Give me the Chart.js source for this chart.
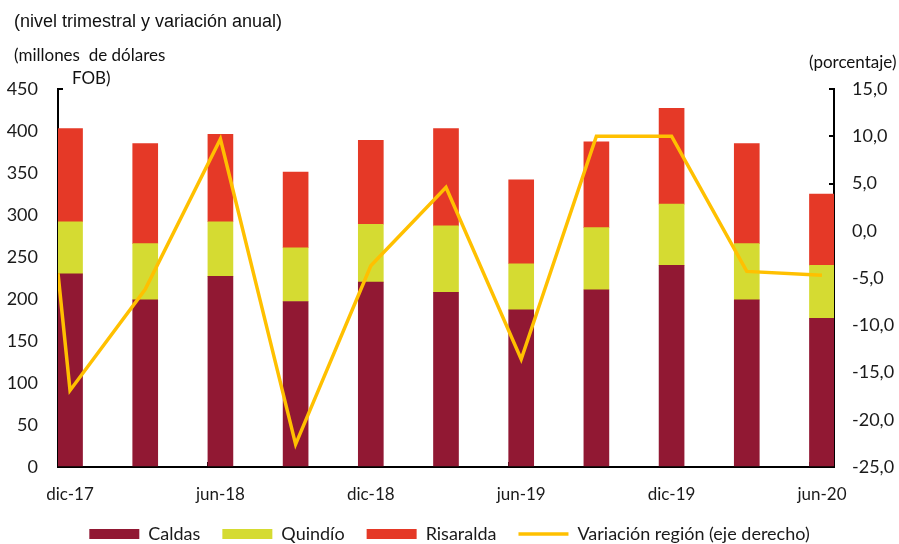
<!DOCTYPE html>
<html>
<head>
<meta charset="utf-8">
<script src="https://cdn.jsdelivr.net/npm/chart.js@4.4.0/dist/chart.umd.min.js"></script>
<style>
  html, body { margin: 0; padding: 0; background: #fff; }
  #wrap { position: relative; width: 899px; height: 544px; }
  #wrap canvas { position: absolute; left: 0; top: 0; }
  .txt { position: absolute; white-space: pre; color: #111; font-family: Lato, sans-serif; font-size: 17px; line-height: 1; }
  #titulo { left: 14px; top: 12px; font-family: "Liberation Sans", Arial, sans-serif; font-size: 18px; }
  #unidadIzq1 { left: 14px; top: 46px; }
  #unidadIzq2 { left: 72px; top: 69px; }
  #unidadDer { left: 809px; top: 53px; }
</style>
</head>
<body>
<div id="wrap">
  <canvas id="myChart" width="899" height="544"></canvas>
  <div class="txt" id="titulo">(nivel trimestral y variación anual)</div>
  <div class="txt" id="unidadIzq1">(millones  de dólares</div>
  <div class="txt" id="unidadIzq2">FOB)</div>
  <div class="txt" id="unidadDer">(porcentaje)</div>
</div>
<script>
// trimestres
const categorias = ['dic-17', 'mar-18', 'jun-18', 'sep-18', 'dic-18', 'mar-19', 'jun-19', 'sep-19', 'dic-19', 'mar-20', 'jun-20'];

// millones de dólares FOB
const caldas    = [230, 199, 227, 197, 220, 208, 187, 211, 240, 199, 177];
const quindio   = [62, 67, 65, 64, 69, 79, 55, 74, 73, 67, 63];
const risaralda = [111, 119, 104, 90, 100, 116, 100, 102, 114, 119, 85];

// variación anual región (%)
const variacion = [-16.9, -6.2, 9.7, -22.6, -3.7, 4.6, -13.6, 10.0, 10.0, -4.3, -4.7];
const variacionInicio = -4.5; // tramo que entra por el borde izquierdo

const xMin = -0.16;
const xMax = categorias.length - 1 + 0.16;

const fuente = 'Lato, sans-serif';
const colorTexto = '#1a1a1a';

function puntos(valores) {
  return valores.map((v, i) => ({ x: i, y: v }));
}

const datosLinea = [{ x: xMin, y: variacionInicio }].concat(puntos(variacion));

const ctx = document.getElementById('myChart').getContext('2d');

const myChart = new Chart(ctx, {
  type: 'bar',
  data: {
    datasets: [
      {
        type: 'line',
        label: 'Variación región (eje derecho)',
        data: datosLinea,
        yAxisID: 'y1',
        xAxisID: 'x',
        borderColor: '#FFC000',
        backgroundColor: '#FFC000',
        borderWidth: 3.5,
        pointRadius: 0,
        tension: 0,
        order: -1
      },
      { label: 'Caldas', data: puntos(caldas), backgroundColor: '#911833', yAxisID: 'y', barThickness: 25 },
      { label: 'Quindío', data: puntos(quindio), backgroundColor: '#D5DB32', yAxisID: 'y', barThickness: 25 },
      { label: 'Risaralda', data: puntos(risaralda), backgroundColor: '#E53927', yAxisID: 'y', barThickness: 25 }
    ]
  },
  options: {
    responsive: false,
    animation: false,
    layout: { padding: { top: 89, left: 0, right: 0, bottom: -9 } },
    plugins: {
      tooltip: { enabled: false },
      legend: {
        position: 'bottom',
        labels: {
          usePointStyle: true,
          pointStyleWidth: 50,
          boxHeight: 10,
          padding: 22,
          color: colorTexto,
          font: { family: fuente, size: 18 },
          sort: (a, b) => {
            const orden = [1, 2, 3, 0];
            return orden.indexOf(a.datasetIndex) - orden.indexOf(b.datasetIndex);
          },
          generateLabels: function(chart) {
            const items = Chart.defaults.plugins.legend.labels.generateLabels(chart);
            items.forEach(it => {
              if (it.datasetIndex === 0) {
                it.pointStyle = 'line';
                it.strokeStyle = '#FFC000';
                it.lineWidth = 3.5;
              } else {
                it.pointStyle = 'rect';
                it.lineWidth = 0;
              }
            });
            return items;
          }
        }
      }
    },
    scales: {
      x: {
        type: 'linear',
        position: 'bottom',
        min: xMin,
        max: xMax,
        offset: false,
        stacked: true,
        weight: 1,
        border: { color: '#000', width: 2 },
        grid: { display: false, drawTicks: false, offset: false },
        afterBuildTicks: s => {
          s.ticks = categorias.map((c, i) => ({ value: i })).filter(t => t.value % 2 === 0);
        },
        afterFit: s => { s.height = 36; },
        ticks: {
          padding: 17,
          autoSkip: false,
          maxRotation: 0,
          color: colorTexto,
          font: { family: fuente, size: 17 },
          callback: v => categorias[Math.round(v)]
        }
      },
      xMarcas: {
        type: 'linear',
        position: 'bottom',
        min: xMin,
        max: xMax,
        offset: false,
        weight: 0,
        border: { display: false },
        grid: { drawOnChartArea: false, drawTicks: true, tickLength: -5, color: '#000', lineWidth: 2, offset: false },
        afterBuildTicks: s => {
          s.ticks = [0, 2, 4, 6, 8, 10].map(k => ({ value: xMin + k }));
        },
        afterFit: s => { s.height = 0; },
        ticks: { display: false }
      },
      y: {
        position: 'left',
        stacked: true,
        min: 0,
        max: 450,
        border: { color: '#000', width: 2 },
        grid: { drawOnChartArea: false, drawTicks: true, tickLength: -5, color: '#000', lineWidth: 2 },
        afterFit: s => { s.width = 58; },
        ticks: {
          stepSize: 50,
          padding: 25,
          color: colorTexto,
          font: { family: fuente, size: 18 }
        }
      },
      y1: {
        position: 'right',
        min: -25,
        max: 15,
        border: { color: '#000', width: 2 },
        grid: { drawOnChartArea: false, drawTicks: true, tickLength: -5, color: '#000', lineWidth: 2 },
        afterFit: s => { s.width = 65; },
        ticks: {
          stepSize: 5,
          padding: 23,
          color: colorTexto,
          font: { family: fuente, size: 18 },
          callback: v => v.toFixed(1).replace('.', ',')
        }
      }
    }
  }
});
</script>
</body>
</html>
